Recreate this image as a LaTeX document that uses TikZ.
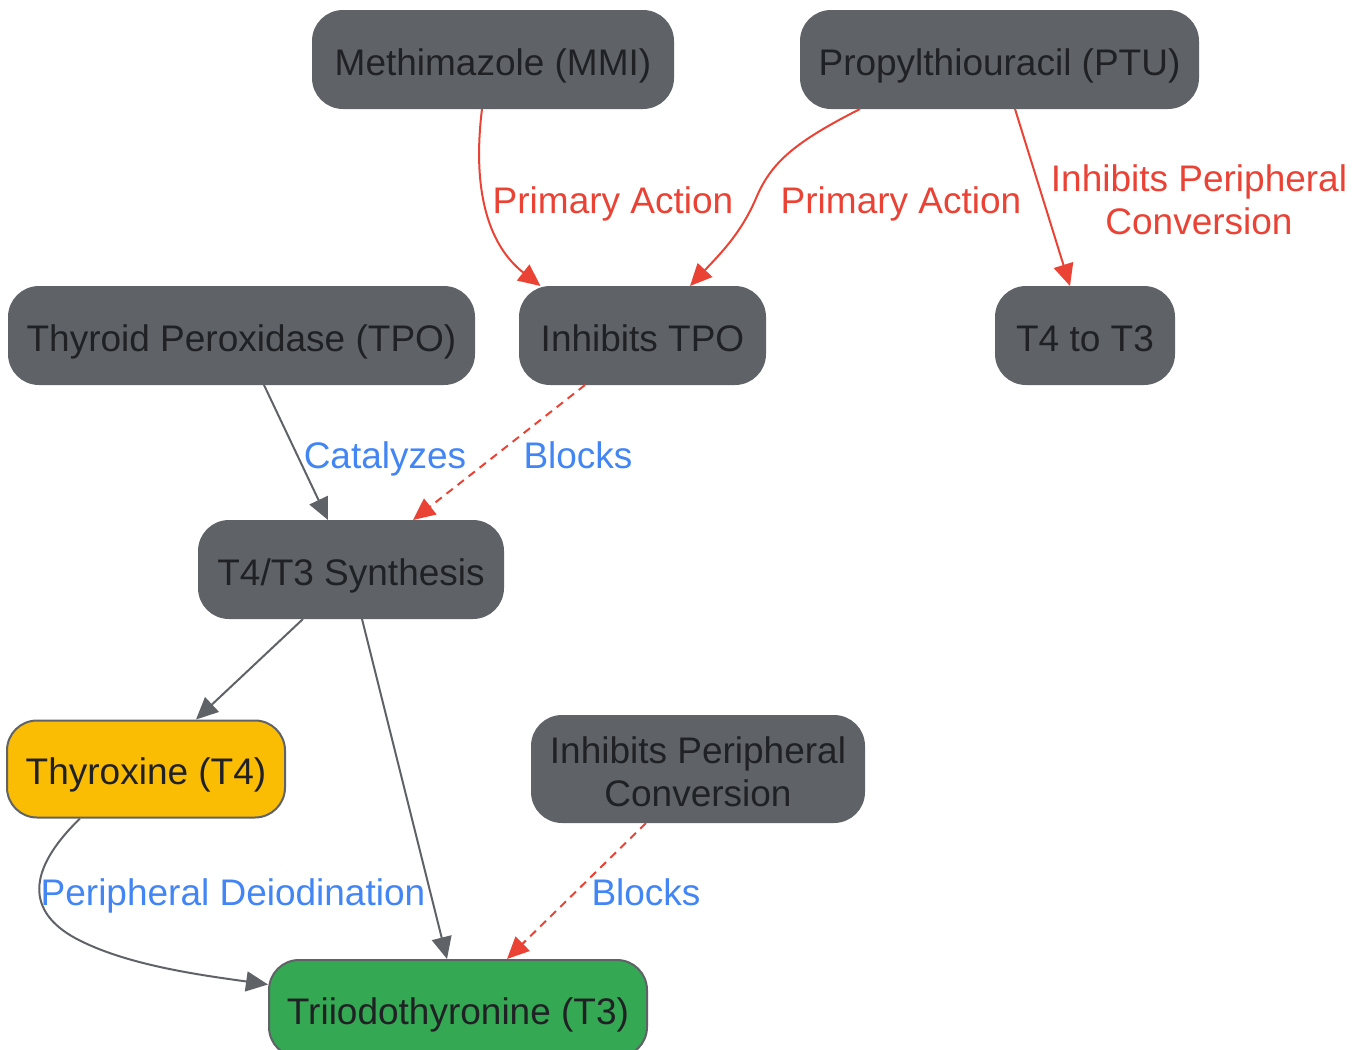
\documentclass[tikz,border=0pt]{standalone}
\usepackage{fontspec}
\setmainfont{Liberation Sans}
\usetikzlibrary{arrows.meta,calc}
\definecolor{gbox}{HTML}{5F6368}
\definecolor{ink}{HTML}{202124}
\definecolor{gred}{HTML}{EA4335}
\definecolor{gblue}{HTML}{4285F4}
\definecolor{gyellow}{HTML}{FBBC04}
\definecolor{ggreen}{HTML}{34A853}
\tikzset{
  box/.style={draw=gbox,fill=gbox,line width=1pt,rounded corners=15pt,minimum height=48.5pt,
    inner sep=0pt,align=center,text=ink,text height=15.7pt,text depth=0pt,
    font=\fontsize{18.5}{21.5}\selectfont},
  link/.style={draw=gbox,line width=1pt,-{Triangle[length=11pt,width=10pt]}},
  redlink/.style={link,draw=gred,fill=none},
  blocklink/.style={redlink,dash pattern=on 4pt off 3pt},
  redtag/.style={text=gred,align=center,inner sep=0pt,text height=13.3pt,text depth=0pt,
    font=\fontsize{18.5}{21.5}\selectfont},
  bluetag/.style={redtag,text=gblue}
}
\begin{document}
\begin{tikzpicture}[x=0.5pt,y=-0.5pt]
        \useasboundingbox (0,0) rectangle (1361,1050);
        \draw (493,59.5) node[box,name=mmi,minimum width=180pt] {Methimazole (MMI)};
        \draw (999.5,59.5) node[box,name=ptu,minimum width=198.5pt] {Propylthiouracil (PTU)};
        \draw (241.5,335.5) node[box,name=tpo,minimum width=232.5pt] {Thyroid Peroxidase (TPO)};
        \draw (642.5,335.5) node[box,name=inhtpo,minimum width=122.5pt] {Inhibits TPO};
        \draw (1085,335.5) node[box,name=tfour,minimum width=89pt] {T4 to T3};
        \draw (351,569.5) node[box,name=synth,minimum width=152pt] {T4/T3 Synthesis};
        \draw (146,769) node[box,name=thyrox,fill=gyellow,minimum width=139pt] {Thyroxine (T4)};
        \draw (698,769) node[box,name=inhconv,minimum width=166pt,minimum height=53pt,
          text height=37.5pt] {Inhibits Peripheral\\Conversion};
        \draw (458,1008.5) node[box,name=tthree,fill=ggreen,minimum width=189pt] {Triiodothyronine (T3)};

        % drugs
        \draw[redlink] ($(mmi.south)+(-11,0)$) .. controls (472,190) and (488,245) .. ($(inhtpo.north)+(-102,0)$)
          node[redtag] at (613,200) {Primary Action};
        \draw[redlink] ($(ptu.south)+(-139.5,0)$) .. controls (795,142) and (772,162) .. (757,196)
          .. controls (742,232) and (722,252) .. ($(inhtpo.north)+(47.5,0)$)
          node[redtag] at (901,200) {Primary Action};
        \draw[redlink] ($(ptu.south)+(15.5,0)$) -- ($(tfour.north)+(-15,0)$)
          node[redtag,text height=34.8pt] at (1199,200) {Inhibits Peripheral\\Conversion};

        % synthesis
        \draw[link] ($(tpo.south)+(22.5,0)$) -- ($(synth.north)+(-23,0)$)
          node[bluetag] at (385,455) {Catalyzes};
        \draw[blocklink] ($(inhtpo.south)+(-57.5,0)$) -- ($(synth.north)+(62,0)$)
          node[bluetag] at (578,455) {Blocks};
        \draw[link] ($(synth.south)+(-48,0)$) -- ($(thyrox.north)+(50,0)$);
        \draw[link] ($(synth.south)+(11,0)$) -- ($(tthree.north)+(-11,0)$);

        % conversion
        \draw[link] ($(thyrox.south)+(-66,0)$) .. controls (25,872) and (28,912) .. (75,938)
          .. controls (125,965) and (200,975) .. ($(tthree.west)+(0,-24)$)
          node[bluetag] at (233,892) {Peripheral Deiodination};
        \draw[blocklink] ($(inhconv.south)+(-52,0)$) -- ($(tthree.north)+(49,0)$)
          node[bluetag] at (646,892) {Blocks};
\end{tikzpicture}
\end{document}
